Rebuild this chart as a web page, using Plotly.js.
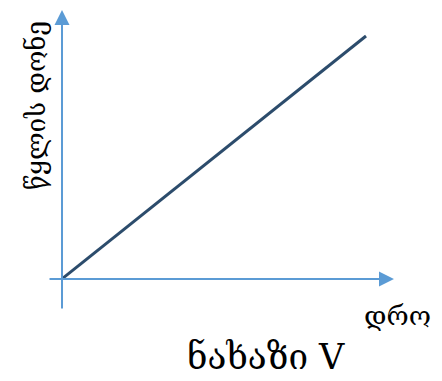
<!DOCTYPE html>
<html>
<head>
<meta charset="utf-8">
<script src="https://cdn.plot.ly/plotly-3.0.1.min.js"></script>
<style>
  html, body { margin: 0; padding: 0; background: #fff; }
  #chart { width: 442px; height: 381px; }
</style>
</head>
<body>
<div id="chart"></div>
<script>
// water level rises linearly with time
const time = [0, 10];
const waterLevel = [0, 10];

const xLabel = "დრო";
const yLabel = "წყლის დონე";
const caption = "ნახაზი V";

const axisColor = "#5b9bd5";
const lineColor = "#2c4c6c";
const font = "DejaVu Serif, serif";

const trace = {
  x: time,
  y: waterLevel,
  type: "scatter",
  mode: "lines",
  line: { color: lineColor, width: 3 },
  hoverinfo: "skip",
};

// axis arrows drawn as annotations in data units
const axisArrow = (x, y, ax, ay) => ({
  x, y, ax, ay,
  xref: "x", yref: "y", axref: "x", ayref: "y",
  text: "",
  showarrow: true,
  arrowhead: 2,
  arrowsize: 1.5,
  arrowwidth: 2,
  arrowcolor: axisColor,
});

const label = (px, py, text, size, angle) => ({
  xref: "paper", yref: "paper",
  x: px / 442, y: 1 - py / 381,
  xanchor: "center", yanchor: "middle",
  text, textangle: angle || 0, showarrow: false,
  font: { family: font, size, color: "#000" },
});

const layout = {
  width: 442,
  height: 381,
  margin: { l: 0, r: 0, t: 0, b: 0 },
  paper_bgcolor: "#fff",
  plot_bgcolor: "#fff",
  showlegend: false,
  xaxis: {
    range: [-2.04, 12.5],
    visible: false,
    fixedrange: true,
  },
  yaxis: {
    range: [-4.2, 11.48],
    visible: false,
    fixedrange: true,
  },
  annotations: [
    axisArrow(10.92, 0, -0.46, 0),
    axisArrow(0, 11.07, 0, -1.28),
    label(36, 106, yLabel, 26, -90),
    label(397, 315, xLabel, 27),
    label(266, 357, caption, 35),
  ],
};

Plotly.newPlot("chart", [trace], layout, { displayModeBar: false, staticPlot: true });
</script>
</body>
</html>
